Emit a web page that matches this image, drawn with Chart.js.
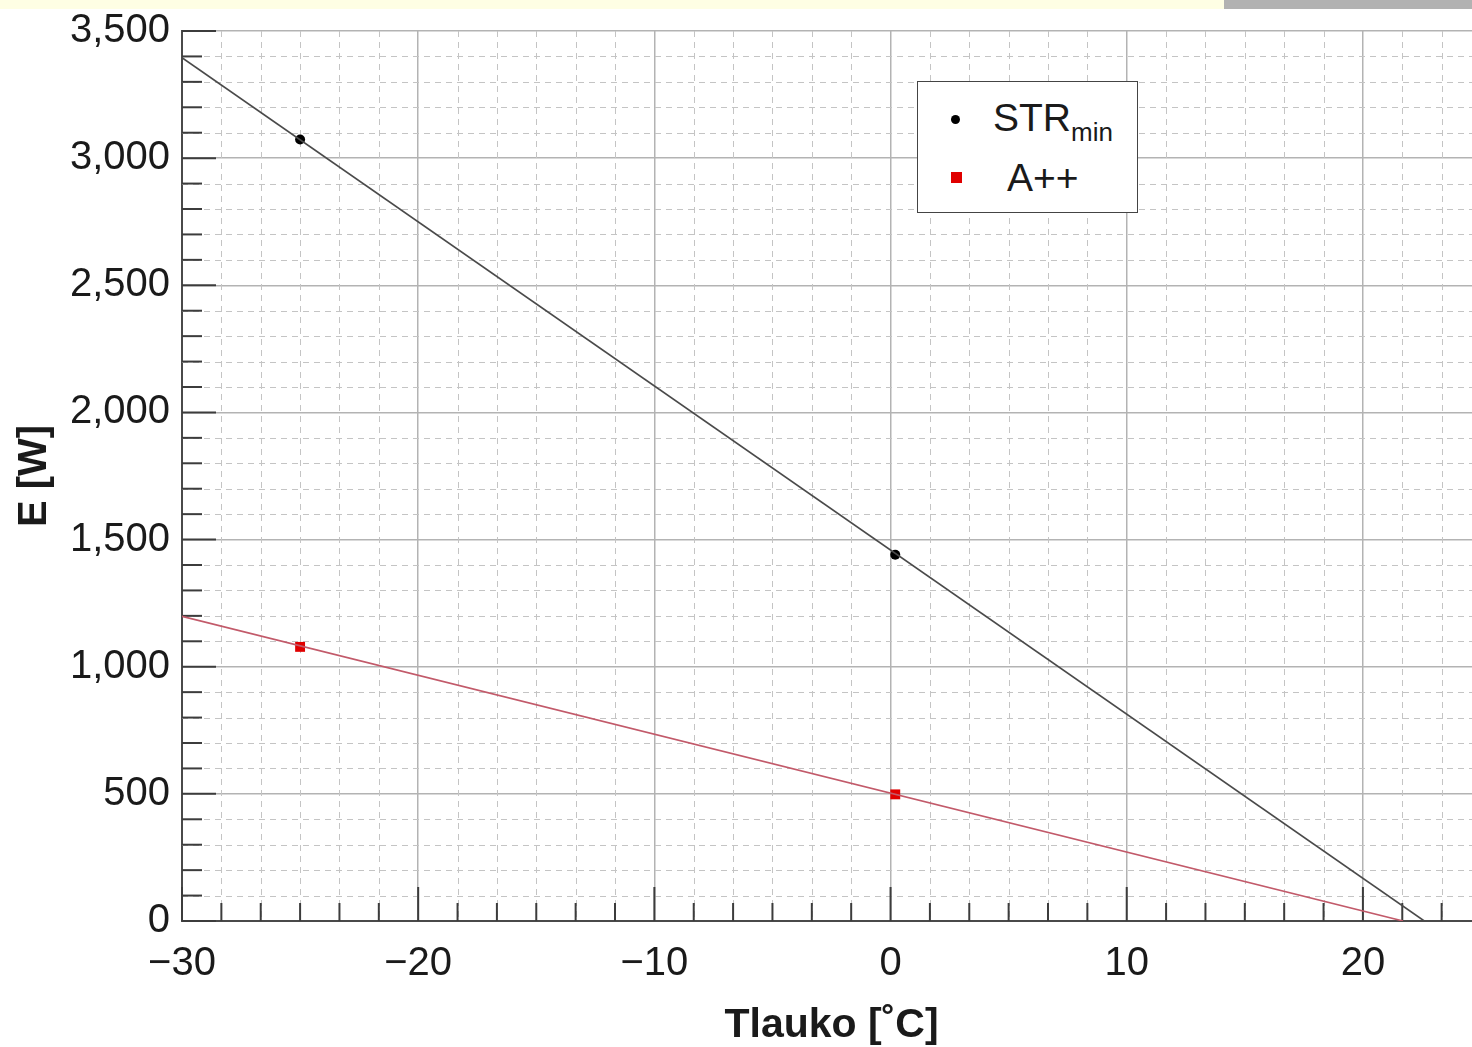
<!DOCTYPE html>
<html>
<head>
<meta charset="utf-8">
<script src="https://cdn.jsdelivr.net/npm/chart.js@4.4.0/dist/chart.umd.min.js"></script>
<style>
  html, body { margin: 0; padding: 0; background: #fff; overflow: hidden; width: 1472px; height: 1047px; }
  #wrap { position: absolute; left: 0; top: 0; width: 1500px; height: 1047px; }
  #bandY { position: absolute; left: 0; top: 0; width: 1224px; height: 9px; background: #fefee4; }
  #bandG { position: absolute; left: 1224px; top: 0; width: 260px; height: 9px; background: #b2b2b2; }
  #legend { position: absolute; left: 917px; top: 81px; width: 219px; height: 130px; border: 1.5px solid #444; background: #fff;
            font-family: 'Liberation Sans', Arial, sans-serif; color: #1a1a1a; }
  .row { position: absolute; left: 0; width: 100%; font-size: 39px; line-height: 40px; }
  .dot { position: absolute; left: 33px; width: 9px; height: 9px; border-radius: 50%; background: #000; }
  .sq { position: absolute; left: 33px; width: 11px; height: 11px; background: #e00000; }
  sub { font-size: 26px; vertical-align: -10px; line-height: 0; }
</style>
</head>
<body>
<div id="wrap"><canvas id="c"></canvas></div>
<div id="bandY"></div><div id="bandG"></div>
<div id="legend">
  <div class="row" style="top:16px;"><span class="dot" style="top:17px;"></span><span style="position:absolute;left:75px;">STR<sub>min</sub></span></div>
  <div class="row" style="top:76px;"><span class="sq" style="top:14px;"></span><span style="position:absolute;left:89px;">A++</span></div>
</div>
<script>
// ---- data ----
const strPointsX = [-25, 0.2];
const strPointsY = [3073, 1440];
const aPointsX = [-25, 0.2];
const aPointsY = [1078, 498];
const strLineX = [-30, 22.6];
const strLineY = [3395, 0];
const aLineX = [-30, 21.7];
const aLineY = [1198, 0];
const xMajorTicks = [-30, -20, -10, 0, 10, 20];
const yMajorTicks = [0, 500, 1000, 1500, 2000, 2500, 3000, 3500];
const xMinorStep = 10 / 6;
const yMinorStep = 100;

const pts = (xs, ys) => xs.map((x, i) => ({ x, y: ys[i] }));
const FONT = "'Liberation Sans', Arial, sans-serif";

const innerGrid = {
  id: 'innerGrid',
  beforeDatasetsDraw(chart) {
    const { ctx, chartArea: a, scales: { x, y } } = chart;
    ctx.save();
    // minor dashed grid
    ctx.strokeStyle = '#c4c4c4';
    ctx.lineWidth = 1;
    ctx.setLineDash([6, 5]);
    for (let v = x.min; v <= x.max + 1e-6; v += xMinorStep) {
      if (Math.abs(v / 10 - Math.round(v / 10)) < 1e-6) continue;
      const px = Math.round(x.getPixelForValue(v)) + 0.5;
      ctx.beginPath(); ctx.moveTo(px, a.top); ctx.lineTo(px, a.bottom); ctx.stroke();
    }
    for (let v = y.min; v <= y.max + 1e-6; v += yMinorStep) {
      if (v % 500 === 0) continue;
      const py = Math.round(y.getPixelForValue(v)) + 0.5;
      ctx.beginPath(); ctx.moveTo(a.left, py); ctx.lineTo(a.right, py); ctx.stroke();
    }
    ctx.setLineDash([]);
    // inner tick marks
    ctx.strokeStyle = '#3c3c3c';
    ctx.lineWidth = 2;
    for (let v = x.min; v <= x.max + 1e-6; v += xMinorStep) {
      const major = Math.abs(v / 10 - Math.round(v / 10)) < 1e-6;
      const px = x.getPixelForValue(v);
      ctx.beginPath(); ctx.moveTo(px, a.bottom); ctx.lineTo(px, a.bottom - (major ? 34 : 18)); ctx.stroke();
    }
    for (let v = y.min; v <= y.max + 1e-6; v += yMinorStep) {
      const major = v % 500 === 0;
      const py = y.getPixelForValue(v);
      ctx.beginPath(); ctx.moveTo(a.left, py); ctx.lineTo(a.left + (major ? 34 : 20), py); ctx.stroke();
    }
    ctx.restore();
  }
};

new Chart(document.getElementById('c'), {
  type: 'scatter',
  data: {
    datasets: [
      { label: 'STRmin fit', data: pts(strLineX, strLineY), showLine: true, borderColor: '#4a4a4a', borderWidth: 1.6, pointRadius: 0, fill: false },
      { label: 'A++ fit', data: pts(aLineX, aLineY), showLine: true, borderColor: '#c25a6a', borderWidth: 1.6, pointRadius: 0, fill: false },
      { label: 'STRmin', data: pts(strPointsX, strPointsY), pointStyle: 'circle', pointRadius: 5, backgroundColor: '#000', borderColor: '#000', borderWidth: 0 },
      { label: 'A++', data: pts(aPointsX, aPointsY), pointStyle: 'rect', pointRadius: 7, backgroundColor: '#e00000', borderColor: '#e00000', borderWidth: 0 }
    ]
  },
  plugins: [innerGrid],
  options: {
    responsive: true,
    maintainAspectRatio: false,
    animation: false,
    layout: { padding: { top: 31, right: 19, left: 0, bottom: 0 } },
    plugins: { legend: { display: false }, tooltip: { enabled: false } },
    scales: {
      x: {
        type: 'linear', min: -30, max: 25,
        afterBuildTicks: (s) => { s.ticks = xMajorTicks.map(v => ({ value: v })); },
        afterFit: (s) => { s.height = 126; s.paddingLeft = 0; s.paddingRight = 0; },
        ticks: { font: { family: FONT, size: 40 }, color: '#1a1a1a', padding: 19, maxRotation: 0, autoSkip: false,
                 callback: (v) => (v < 0 ? '\u2212' + Math.abs(v) : String(v)) },
        grid: { color: '#b3b3b3', lineWidth: 1.5, drawTicks: false },
        border: { display: true, color: '#4a4a4a', width: 2 },
        title: { display: true, text: 'Tlauko [˚C]', font: { family: FONT, size: 41, weight: 'bold' }, color: '#1a1a1a', padding: { top: 0, bottom: -3 } }
      },
      y: {
        type: 'linear', min: 0, max: 3500,
        afterBuildTicks: (s) => { s.ticks = yMajorTicks.map(v => ({ value: v })); },
        afterFit: (s) => { s.width = 182; s.paddingTop = 0; s.paddingBottom = 0; },
        ticks: { font: { family: FONT, size: 40 }, color: '#1a1a1a', padding: 12,
                 callback: (v) => v.toLocaleString('en-US') },
        grid: { color: '#b3b3b3', lineWidth: 1.5, drawTicks: false },
        border: { display: true, color: '#4a4a4a', width: 2 },
        title: { display: true, text: 'E [W]', font: { family: FONT, size: 40, weight: 'bold' }, color: '#1a1a1a', padding: { top: 11, bottom: 0 } }
      }
    }
  }
});
</script>
</body>
</html>
